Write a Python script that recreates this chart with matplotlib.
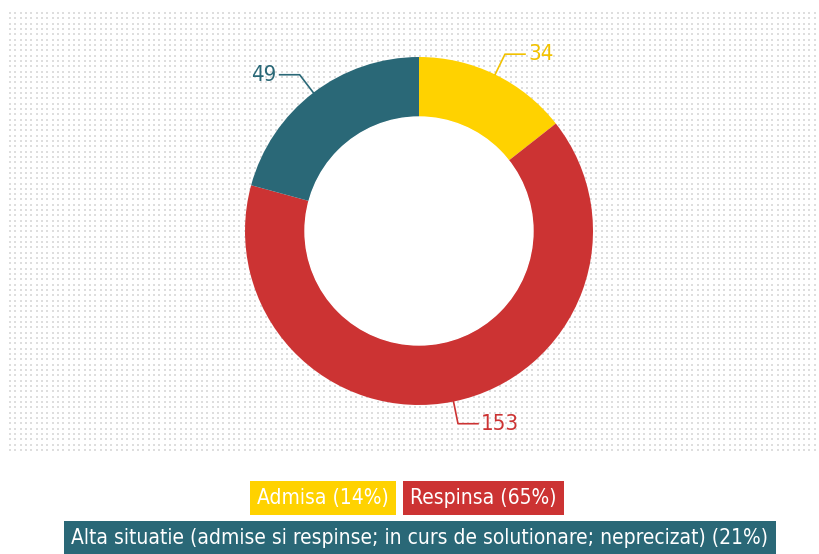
import numpy as np
import matplotlib.pyplot as plt

# date
categorii = ['Admisa', 'Respinsa', 'Alta situatie (admise si respinse; in curs de solutionare; neprecizat)']
valori = [34, 153, 49]
culori = ['#FFD200', '#CC3333', '#2A6877']
culori_text = ['#F2C200', '#CC3333', '#2A6877']

FONT = ['DejaVu Sans']
ST = 'condensed'

fig = plt.figure(figsize=(8.2, 5.54), dpi=100)
ax = fig.add_axes([0, 0, 1, 1])

# fundal punctat
gx = np.arange(10, 819, 5.33)
gy = np.arange(554 - 450, 554 - 10, 5.33)
X, Y = np.meshgrid(gx, gy)
ax.scatter(X.ravel(), Y.ravel(), s=0.8, marker='s', color='#dedede', linewidths=0, zorder=0)

# inel
cx, cy, R = 419, 554 - 231, 174
wedges, _ = ax.pie(valori, colors=culori, startangle=90, counterclock=False,
                   center=(cx, cy), radius=R, frame=True,
                   wedgeprops=dict(width=60, linewidth=0))
ax.add_patch(plt.Circle((cx, cy), R - 60, color='white', zorder=1))
ax.set_xlim(0, 820)
ax.set_ylim(0, 554)
ax.set_aspect('equal')
ax.axis('off')

# etichete cu linii
for w, v, c in zip(wedges, valori, culori_text):
    ang = np.deg2rad((w.theta1 + w.theta2) / 2)
    x0, y0 = cx + R * np.cos(ang), cy + R * np.sin(ang)
    x1, y1 = cx + 1.13 * R * np.cos(ang), cy + 1.13 * R * np.sin(ang)
    d = 1 if np.cos(ang) >= 0 else -1
    x2 = x1 + d * 20
    ax.plot([x0, x1, x2], [y0, y1, y1], color=c, lw=1.2, zorder=3)
    ax.text(x2 + d * 3, y1, str(v), color=c, fontsize=16, family=FONT, fontstretch=ST,
            ha='left' if d > 0 else 'right', va='center', zorder=3)

# legenda
total = sum(valori)
proc = [round(v / total * 100) for v in valori]
etich = [f'{c} ({p}%)' for c, p in zip(categorii, proc)]
box = dict(boxstyle='square,pad=0.35', linewidth=0)
ax.text(396 - 7, 554 - 498, etich[0], color='white', fontsize=15, family=FONT, fontstretch=ST,
        ha='right', va='center', bbox=dict(box, facecolor=culori[0]))
ax.text(403 + 7, 554 - 498, etich[1], color='white', fontsize=15, family=FONT, fontstretch=ST,
        ha='left', va='center', bbox=dict(box, facecolor=culori[1]))
ax.text(420, 554 - 538, etich[2], color='white', fontsize=15, family=FONT, fontstretch=ST,
        ha='center', va='center', bbox=dict(box, facecolor=culori[2]))

fig.savefig('out.png', dpi=100)
